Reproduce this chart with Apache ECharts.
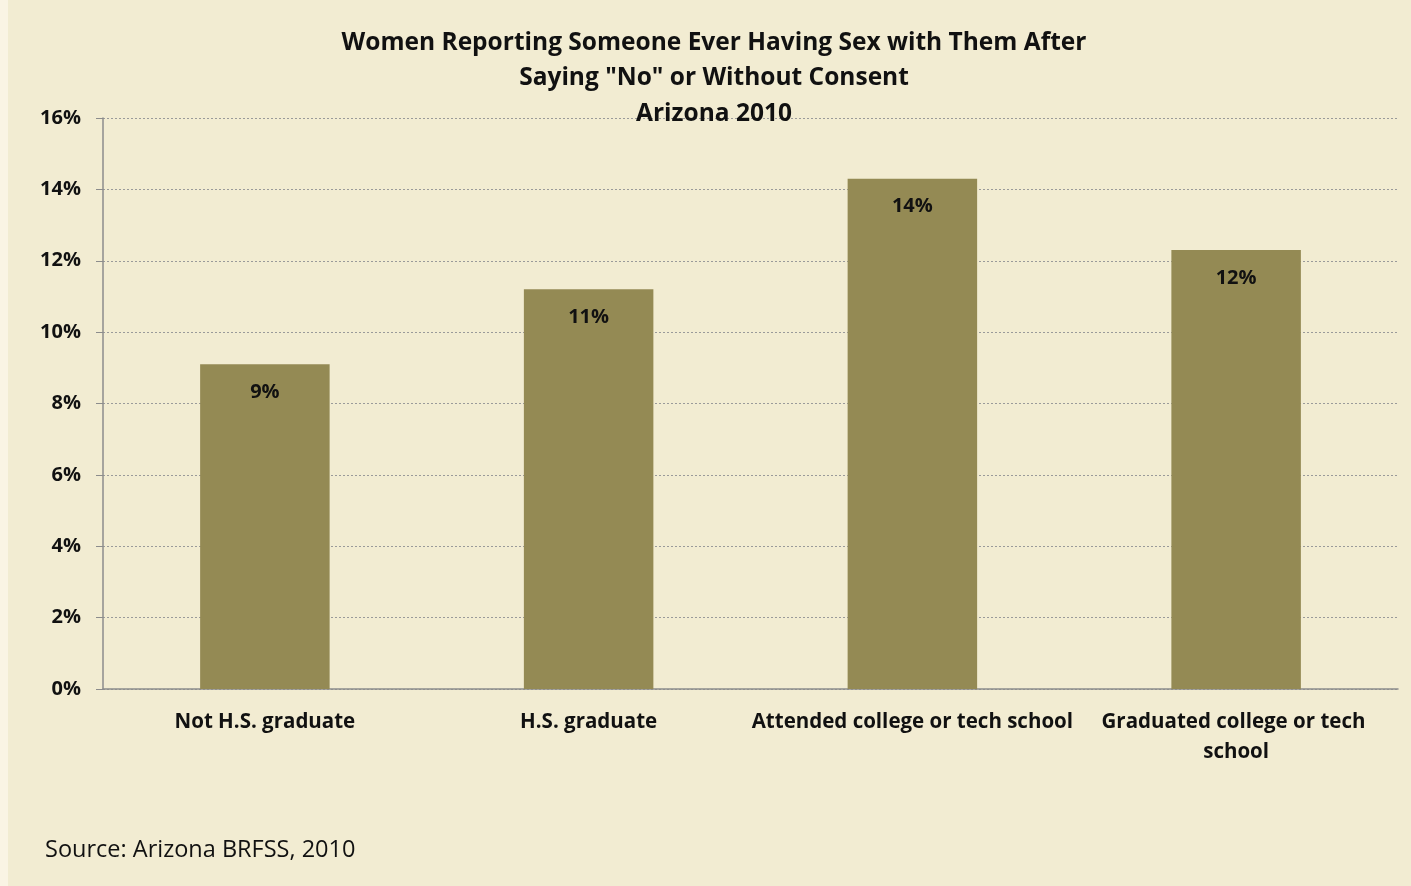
<!DOCTYPE html>
<html>
<head>
<meta charset="utf-8">
<script src="https://cdn.jsdelivr.net/npm/echarts@6/dist/echarts.min.js"></script>
<style>
  html, body { margin: 0; padding: 0; background: #faf4e4; }
  #main { position: absolute; left: 8px; top: 0; width: 1403px; height: 886px; }
</style>
</head>
<body>
<div id="main"></div>
<script>
// categories and values
const categories = [
  "Not H.S. graduate",
  "H.S. graduate",
  "Attended college or tech school",
  "Graduated college or tech school"
];
const percents = [9.1, 11.2, 14.3, 12.3];
const yTicks = [0, 2, 4, 6, 8, 10, 12, 14, 16];

const FONT = "Open Sans";
const chart = echarts.init(document.getElementById("main"));
chart.setOption({
  animation: false,
  backgroundColor: "#f2ecd2",
  title: {
    text: 'Women Reporting Someone Ever Having Sex with Them After\nSaying "No" or Without Consent\nArizona 2010',
    left: 701,
    textAlign: "center",
    top: 20,
    textStyle: { fontFamily: FONT, fontWeight: "bold", fontSize: 24.5, lineHeight: 35.5, color: "#111" }
  },
  graphic: [{
    type: "text",
    left: 37,
    top: 838,
    style: { text: "Source: Arizona BRFSS, 2010", font: "23.5px " + FONT, fill: "#111" }
  }],
  grid: { left: 95, right: 13, top: 118, bottom: 197 },
  xAxis: {
    type: "category",
    data: categories,
    axisLine: { lineStyle: { color: "#8c8c8c", width: 1.5 } },
    axisTick: { length: 6, lineStyle: { color: "#8c8c8c" } },
    axisLabel: {
      margin: 18,
      interval: 0,
      width: 323,
      overflow: "break",
      lineHeight: 30,
      fontFamily: FONT, fontWeight: "bold", fontSize: 20.5, color: "#111"
    }
  },
  yAxis: {
    type: "value",
    min: 0,
    max: yTicks[yTicks.length - 1],
    interval: 2,
    axisLine: { show: true, lineStyle: { color: "#8c8c8c", width: 1.5 } },
    axisTick: { show: true, length: 7, lineStyle: { color: "#8c8c8c" } },
    axisLabel: {
      margin: 22,
      formatter: v => v + "%",
      fontFamily: FONT, fontWeight: "bold", fontSize: 20, color: "#111"
    },
    splitLine: { lineStyle: { color: "#9a9a9a", type: [2, 2], width: 1 } }
  },
  series: [{
    type: "bar",
    data: percents,
    barWidth: "40%",
    itemStyle: { color: "#948a54" },
    label: {
      show: true,
      position: "insideTop",
      distance: 18,
      formatter: p => Math.round(p.value) + "%",
      fontFamily: FONT, fontWeight: "bold", fontSize: 20, color: "#111"
    }
  }]
});
</script>
</body>
</html>
